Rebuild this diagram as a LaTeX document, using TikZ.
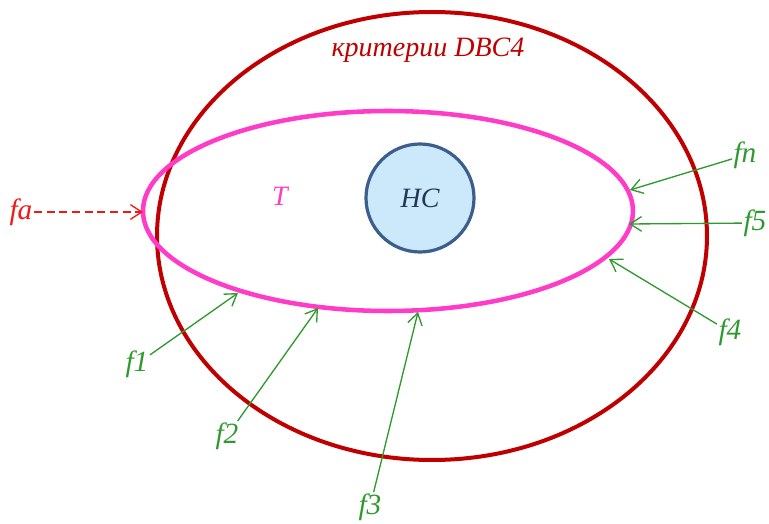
\documentclass[tikz,border=0pt]{standalone}
\usepackage{fontspec}
\setmainfont{Liberation Serif}
\usetikzlibrary{arrows.meta}
\definecolor{critred}{HTML}{C00000}
\definecolor{tpink}{HTML}{FF3CC8}
\definecolor{hcfill}{HTML}{CCE9FB}
\definecolor{hcedge}{HTML}{3B5E8C}
\definecolor{fgreen}{HTML}{2E9A2E}
\definecolor{fared}{HTML}{F01818}
\tikzset{
  lbl/.style={font=\fontsize{22}{24}\selectfont\itshape, text=fgreen, inner sep=1pt},
  farrow/.style={draw=fgreen, line width=1pt, -{Straight Barb[length=8.5pt,width=11pt]}},
}
\begin{document}
\begin{tikzpicture}[x=0.75pt, y=-0.75pt]
  \useasboundingbox (0,0) rectangle (769,524);
  % regions
  \draw[line width=3pt, critred] (432,236) ellipse [x radius=275, y radius=224];
  \draw[line width=3.4pt, tpink] (388,211) ellipse [x radius=245, y radius=100];
  \node[circle, draw=hcedge, fill=hcfill, line width=2.4pt, minimum size=81pt, inner sep=0pt,
        font=\fontsize{21}{23}\selectfont\itshape, text=hcedge!60!black] (hc) at (420,198) {HC};
  \node[font=\fontsize{21}{24}\selectfont\itshape, text=critred] (crit) at (428,50) {критерии DBC4};
  \node[font=\fontsize{21}{23}\selectfont\itshape, text=tpink] (t) at (280,196) {T};
  % points on the T ellipse
  \coordinate (pa) at (143,212);
  \coordinate (pn) at (630,190);
  \coordinate (p5) at (629,224);
  \coordinate (p4) at (609,259);
  \coordinate (p1) at (238,293);
  \coordinate (p2) at (318,308);
  \coordinate (p3) at (418,312);
  % labels
  \node[lbl, text=fared] (fa) at (21,212) {fa};
  \node[lbl] (fn) at (745,155) {fn};
  \node[lbl] (f5) at (755,223) {f5};
  \node[lbl] (f4) at (730,332) {f4};
  \node[lbl] (f1) at (137,364) {f1};
  \node[lbl] (f2) at (227,436) {f2};
  \node[lbl] (f3) at (370,507) {f3};
  % arrows
  \draw[farrow, draw=fared, dash pattern=on 6pt off 3.5pt] (fa) -- (pa);
  \draw[farrow] (fn) -- (pn);
  \draw[farrow] (f5) -- (p5);
  \draw[farrow] (f4) -- (p4);
  \draw[farrow] (f1) -- (p1);
  \draw[farrow] (f2) -- (p2);
  \draw[farrow] (f3) -- (p3);
\end{tikzpicture}
\end{document}
